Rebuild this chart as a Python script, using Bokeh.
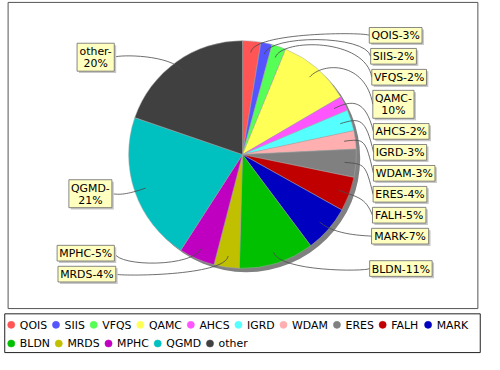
import math
from bokeh.plotting import figure
from bokeh.models import Range1d, ColumnDataSource
from bokeh.core.properties import value
from bokeh.embed import file_html
from bokeh.resources import INLINE

# ---------------- data ----------------
categories = ["QOIS", "SIIS", "VFQS", "QAMC", "AHCS", "IGRD", "WDAM", "ERES",
              "FALH", "MARK", "BLDN", "MRDS", "MPHC", "QGMD", "other"]
shares = [2.6, 1.6, 2.0, 10.4, 2.1, 3.0, 2.6, 4.0, 4.9, 6.7, 10.7, 3.6, 5.1, 21.2, 19.8]
colors = ["#FF5555", "#5555FF", "#55FF55", "#FFFF55", "#FF55FF", "#55FFFF", "#FFAFAF",
          "#808080", "#C00000", "#0000C0", "#00C000", "#C0C000", "#C000C0", "#00C0C0", "#404040"]
wrapped_names = ["QAMC", "QGMD", "other"]

# ---------------- layout (reference pixel units) ----------------
REF_W, REF_H = 500, 370
FIG_W, FIG_H = 484, 354
K = FIG_H / REF_H
XPAD = (FIG_W / K - REF_W) / 2
FONT = "DejaVu Sans"
FS = 11.4
FS_PX = f"{FS * K:.1f}px"

CX, CY, R = 250, 161, 119
SHADOW = 4
LINK_R = 0.9 * R
ELBOW_R = 1.08 * R
LABEL_RY = 125
LABEL_AX, LABEL_BY = 137, 490
LINE_H = 12.8
PAD_X, PAD_Y = 2.2, 1.8
GAP = 5.5
Y_MIN, Y_MAX = 30, 286

EM = {"A": .684, "B": .686, "C": .698, "D": .770, "E": .632, "F": .575, "G": .775,
      "H": .752, "I": .295, "K": .656, "L": .557, "M": .863, "N": .748, "O": .787,
      "P": .603, "Q": .787, "R": .695, "S": .635, "V": .684, "W": .989,
      "o": .612, "t": .392, "h": .634, "e": .615, "r": .411, "%": .950, "-": .361}


def text_w(s):
    return sum(EM.get(c, .636) for c in s) * FS


total = sum(shares)
fracs = [v / total for v in shares]
pcts = [int(math.floor(f * 100 + 0.5)) for f in fracs]
cum = [0.0]
for f in fracs:
    cum.append(cum[-1] + f)

p = figure(width=FIG_W, height=FIG_H,
           x_range=Range1d(-XPAD, REF_W + XPAD), y_range=Range1d(REF_H, 0),
           output_backend="svg", toolbar_location=None, min_border=0,
           x_axis_location=None, y_axis_location=None)
p.grid.visible = False
p.outline_line_color = None
p.background_fill_color = "white"
p.border_fill_color = "white"

# chart border and legend box
p.quad(left=[5], right=[496], top=[2], bottom=[322], fill_color=None,
       line_color="#555555", line_width=1)
p.quad(left=[1.5], right=[498.5], top=[327.5], bottom=[368], fill_color="white",
       line_color="#222222", line_width=1)

# pie shadow
p.ellipse(x=[CX + SHADOW], y=[CY + SHADOW], width=[2 * R], height=[2 * R],
          fill_color="#808080", line_color=None)

# wedges (clockwise from top)
starts = [math.pi / 2 - 2 * math.pi * cum[i + 1] for i in range(len(categories))]
ends = [math.pi / 2 - 2 * math.pi * cum[i] for i in range(len(categories))]
wsrc = ColumnDataSource(dict(start=starts, end=ends, color=colors))
p.wedge(x=CX, y=CY, radius=R, start_angle="start", end_angle="end",
        direction="anticlock", fill_color="color", line_color="#a8a8a8",
        line_width=0.5, source=wsrc)

# ---------------- labels ----------------
labels = []
for i, name in enumerate(categories):
    mid = (cum[i] + cum[i + 1]) / 2 * 2 * math.pi
    if name in wrapped_names:
        lines = [f"{name}-", f"{pcts[i]}%"]
    else:
        lines = [f"{name}-{pcts[i]}%"]
    w = max(text_w(l) for l in lines) + 2 * PAD_X
    h = len(lines) * LINE_H + 2 * PAD_Y
    side = 1 if mid < math.pi else -1
    labels.append(dict(i=i, mid=mid, lines=lines, w=w, h=h, side=side,
                       y=CY - LABEL_RY * math.cos(mid)))

for side in (1, -1):
    grp = sorted([l for l in labels if l["side"] == side], key=lambda l: l["y"])
    prev = None
    for l in grp:
        y = max(l["y"], Y_MIN)
        if prev is not None:
            y = max(y, prev["y"] + prev["h"] / 2 + GAP + l["h"] / 2)
        l["y"] = y
        prev = l
    if grp[-1]["y"] > Y_MAX:
        grp[-1]["y"] = Y_MAX
    for a, b in reversed(list(zip(grp[:-1], grp[1:]))):
        a["y"] = min(a["y"], b["y"] - b["h"] / 2 - GAP - a["h"] / 2)

bz = dict(x0=[], y0=[], x1=[], y1=[], cx0=[], cy0=[], cx1=[], cy1=[])
box = dict(l=[], r=[], t=[], b=[])
txt = dict(x=[], y=[], t=[])
for l in labels:
    side, mid, y = l["side"], l["mid"], l["y"]
    ex = CX + side * LABEL_AX * math.sqrt(1 - ((y - CY) / LABEL_BY) ** 2)
    lx, ly = CX + LINK_R * math.sin(mid), CY - LINK_R * math.cos(mid)
    elx, ely = CX + ELBOW_R * math.sin(mid), CY - ELBOW_R * math.cos(mid)
    anchor_x = CX + side * ELBOW_R
    bz["x0"].append(lx); bz["y0"].append(ly)
    bz["cx0"].append(elx); bz["cy0"].append(ely)
    bz["cx1"].append(anchor_x); bz["cy1"].append(ely)
    bz["x1"].append(ex); bz["y1"].append(y)
    left = ex if side == 1 else ex - l["w"]
    right = left + l["w"]
    box["l"].append(left); box["r"].append(right)
    box["t"].append(y - l["h"] / 2); box["b"].append(y + l["h"] / 2)
    n = len(l["lines"])
    for k, s in enumerate(l["lines"]):
        txt["x"].append((left + right) / 2)
        txt["y"].append(y + (k - (n - 1) / 2) * LINE_H + 0.5)
        txt["t"].append(s)

p.bezier(x0="x0", y0="y0", x1="x1", y1="y1", cx0="cx0", cy0="cy0", cx1="cx1",
         cy1="cy1", line_color="#4a4a4a", line_width=0.8, source=ColumnDataSource(bz))

bsrc = ColumnDataSource(box)
sh = dict(l=[v + 2 for v in box["l"]], r=[v + 2 for v in box["r"]],
          t=[v + 2 for v in box["t"]], b=[v + 2 for v in box["b"]])
p.quad(left="l", right="r", top="t", bottom="b", source=ColumnDataSource(sh),
       fill_color="#c8c8c8", line_color=None)
p.quad(left="l", right="r", top="t", bottom="b", source=bsrc,
       fill_color="#FFFFC0", line_color="#6a6a6a", line_width=0.8)
p.text(x="x", y="y", text="t", source=ColumnDataSource(txt), text_align="center",
       text_baseline="middle", text_font=value(FONT), text_font_size=FS_PX,
       text_color="black")

# ---------------- legend ----------------
LEG_X0, LEG_XMAX = 4.8, 494
LEG_ROWS = [339, 358.5]
leg_m = dict(x=[], y=[], c=[])
leg_t = dict(x=[], y=[], t=[])
xpos, row = LEG_X0, 0
for name, c in zip(categories, colors):
    tw = text_w(name)
    if xpos + 12.5 + tw > LEG_XMAX:
        row += 1
        xpos = LEG_X0
    leg_m["x"].append(xpos + 3.5); leg_m["y"].append(LEG_ROWS[row]); leg_m["c"].append(c)
    leg_t["x"].append(xpos + 12.5); leg_t["y"].append(LEG_ROWS[row] + 0.5); leg_t["t"].append(name)
    xpos += tw + 18.2

p.scatter(x="x", y="y", marker="circle", size=7.5 * K, fill_color="c", line_color="c",
          line_width=0.5, source=ColumnDataSource(leg_m))
p.text(x="x", y="y", text="t", source=ColumnDataSource(leg_t), text_align="left",
       text_baseline="middle", text_font=value(FONT), text_font_size=FS_PX,
       text_color="black")

open("out.html", "w").write(file_html(p, INLINE))
